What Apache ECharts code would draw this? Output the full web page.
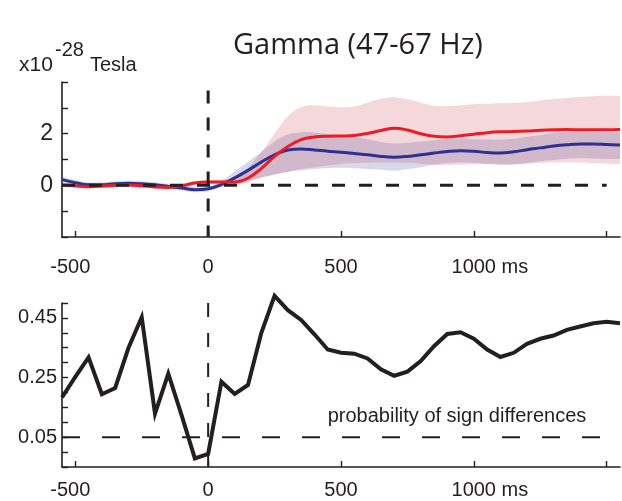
<!DOCTYPE html>
<html>
<head>
<meta charset="utf-8">
<script src="https://cdn.jsdelivr.net/npm/echarts@6/dist/echarts.min.js"></script>
<style>
html, body { margin: 0; padding: 0; background: #fff; }
#chart { width: 622px; height: 501px; }
</style>
</head>
<body>
<div id="chart"></div>
<script>
// Time after stimulus onset (ms), shared by both panels
const times = [-550, -500, -450, -400, -350, -300, -250, -200, -150, -100, -50, 0,
  50, 100, 150, 200, 250, 300, 350, 400, 450, 500, 550, 600, 650, 700, 750, 800,
  850, 900, 950, 1000, 1050, 1100, 1150, 1200, 1250, 1300, 1350, 1400, 1450, 1500, 1550];

// Gamma power, condition 1 (blue): mean and confidence band (x10^-28 Tesla)
const blueMean = [0.22, 0.10, 0.02, 0.02, 0.06, 0.08, 0.06, 0.02, -0.04, -0.10, -0.17, -0.13,
  0.03, 0.29, 0.58, 0.90, 1.18, 1.37, 1.41, 1.37, 1.32, 1.28, 1.23, 1.18, 1.12, 1.09, 1.12, 1.18,
  1.25, 1.31, 1.34, 1.32, 1.27, 1.25, 1.30, 1.38, 1.45, 1.52, 1.57, 1.60, 1.60, 1.58, 1.56];
const blueUpper = [0.34, 0.21, 0.12, 0.12, 0.16, 0.18, 0.16, 0.12, 0.06, 0.00, -0.07, -0.03,
  0.15, 0.55, 0.90, 1.30, 1.70, 1.97, 2.05, 2.05, 1.98, 1.92, 1.85, 1.78, 1.68, 1.62, 1.65, 1.70,
  1.75, 1.80, 1.80, 1.78, 1.77, 1.77, 1.80, 1.88, 1.95, 2.03, 2.07, 2.08, 2.07, 2.06, 2.05];
const blueLower = [0.12, 0.00, -0.08, -0.08, -0.04, -0.02, -0.04, -0.08, -0.14, -0.20, -0.27, -0.23,
  -0.07, 0.05, 0.16, 0.30, 0.42, 0.52, 0.58, 0.63, 0.67, 0.68, 0.66, 0.63, 0.60, 0.57, 0.62, 0.70,
  0.80, 0.86, 0.88, 0.87, 0.83, 0.79, 0.80, 0.86, 0.93, 0.98, 1.03, 1.05, 1.04, 1.02, 1.02];

// Gamma power, condition 2 (red): mean and confidence band
const redMean = [0.01, -0.02, -0.05, -0.03, 0.00, 0.01, -0.02, -0.06, -0.08, -0.02, 0.09, 0.13,
  0.13, 0.13, 0.28, 0.65, 1.12, 1.50, 1.77, 1.87, 1.90, 1.91, 1.93, 2.01, 2.12, 2.21, 2.14, 2.00,
  1.90, 1.87, 1.92, 1.98, 2.04, 2.07, 2.08, 2.10, 2.13, 2.15, 2.16, 2.15, 2.15, 2.15, 2.16];
const redUpper = [0.09, 0.06, 0.03, 0.05, 0.08, 0.09, 0.06, 0.02, 0.00, 0.06, 0.17, 0.21,
  0.23, 0.28, 0.68, 1.28, 2.00, 2.68, 3.03, 3.10, 3.05, 3.02, 3.05, 3.20, 3.35, 3.41, 3.33, 3.20,
  3.08, 3.07, 3.10, 3.14, 3.16, 3.18, 3.19, 3.22, 3.28, 3.34, 3.38, 3.42, 3.45, 3.47, 3.47];
const redLower = [-0.07, -0.10, -0.13, -0.11, -0.08, -0.07, -0.10, -0.14, -0.16, -0.10, 0.01, 0.05,
  0.03, 0.02, 0.12, 0.30, 0.42, 0.53, 0.63, 0.70, 0.77, 0.83, 0.86, 0.87, 0.88, 0.88, 0.87, 0.84,
  0.80, 0.79, 0.80, 0.82, 0.83, 0.83, 0.83, 0.84, 0.86, 0.88, 0.89, 0.88, 0.86, 0.84, 0.83];

// Probability of sign differences between the two conditions
const signProb = [0.183, 0.252, 0.318, 0.194, 0.215, 0.349, 0.452, 0.129, 0.263, 0.124, -0.021, -0.006,
  0.236, 0.195, 0.225, 0.399, 0.524, 0.476, 0.443, 0.395, 0.344, 0.333, 0.330, 0.314, 0.278, 0.256, 0.270, 0.305,
  0.355, 0.396, 0.402, 0.380, 0.344, 0.319, 0.333, 0.363, 0.380, 0.391, 0.410, 0.421, 0.432, 0.437, 0.432];

// Axis ticks and labels
const xTicks = [-500, 0, 500, 1000, 1500];
const xLabels = [-500, 0, 500, 1000];
const topYLabels = [0, 2];
const bottomYTicks = [-0.05, 0, 0.05, 0.1, 0.15, 0.2, 0.25, 0.3, 0.35, 0.4, 0.45, 0.5];
const bottomYLabels = [0.05, 0.25, 0.45];
const alphaLevel = 0.05;

const INK = '#231f20';
const SANS = '"Liberation Sans", Arial, Helvetica, sans-serif';

const pairs = (ys) => times.map((t, i) => [t, ys[i]]);

function xAxisFor(grid, margin) {
  return {
    type: 'value', gridIndex: grid, min: -550, max: 1550,
    axisLine: { show: true, onZero: false, lineStyle: { color: INK, width: 1.6 } },
    axisTick: { show: true, inside: true, length: 6, customValues: xTicks, lineStyle: { color: INK, width: 1.4 } },
    axisLabel: {
      customValues: xLabels, margin: margin,
      // "ms" trails the 1000 label while the number itself stays centred on its tick
      formatter: (v) => v === 1000 ? '{pad| }{t|1000 ms}' : (v === -500 ? '{t|-500}{pad2| }' : '{t|' + v + '}'),
      rich: {
        t: { fontFamily: SANS, fontSize: 20, color: INK },
        pad: { width: 32, fontSize: 20 },
        pad2: { width: 10, fontSize: 20 }
      }
    },
    splitLine: { show: false }
  };
}

// Smooth curve through screen points (cardinal-spline style Bezier segments)
function curveSegment(pts, move) {
  let d = (move ? 'M' : 'L') + pts[0][0] + ' ' + pts[0][1];
  const k = 0.18;
  for (let i = 0; i < pts.length - 1; i++) {
    const p0 = pts[Math.max(0, i - 1)], p1 = pts[i], p2 = pts[i + 1], p3 = pts[Math.min(pts.length - 1, i + 2)];
    const c1x = p1[0] + (p2[0] - p0[0]) * k, c1y = p1[1] + (p2[1] - p0[1]) * k;
    const c2x = p2[0] - (p3[0] - p1[0]) * k, c2y = p2[1] - (p3[1] - p1[1]) * k;
    d += 'C' + c1x + ' ' + c1y + ' ' + c2x + ' ' + c2y + ' ' + p2[0] + ' ' + p2[1];
  }
  return d;
}

// Shaded confidence band: closed shape along the upper edge and back along the lower edge
function bandSeries(upper, lower, fill) {
  return {
    type: 'custom', xAxisIndex: 0, yAxisIndex: 0, silent: true, clip: true,
    data: times.map((t, i) => [t, lower[i], upper[i]]),
    encode: { x: 0, y: [1, 2] },
    renderItem: (params, api) => {
      if (params.dataIndex !== 0) return;
      const top = times.map((t, i) => api.coord([t, upper[i]]));
      const bottom = times.map((t, i) => api.coord([t, lower[i]])).reverse();
      return {
        type: 'path',
        shape: { pathData: curveSegment(top, true) + curveSegment(bottom, false) + 'Z' },
        style: { fill: fill, stroke: 'none' }
      };
    }
  };
}

const option = {
  animation: false,
  backgroundColor: '#fff',
  title: {
    text: 'Gamma (47-67 Hz)', left: 228, top: 26,
    textStyle: { fontFamily: '"Open Sans", sans-serif', fontSize: 29, fontWeight: 'normal', color: INK }
  },
  graphic: [
    { type: 'text', x: 19, y: 65, style: { text: 'x10', font: '21px ' + SANS, fill: INK, textVerticalAlign: 'middle', verticalAlign: 'middle' } },
    { type: 'text', x: 55, y: 50, style: { text: '-28', font: '20px ' + SANS, fill: INK, textVerticalAlign: 'middle', verticalAlign: 'middle' } },
    { type: 'text', x: 90, y: 65, style: { text: 'Tesla', font: '20px ' + SANS, fill: INK, textVerticalAlign: 'middle', verticalAlign: 'middle' } },
    { type: 'text', x: 457, y: 416, style: { text: 'probability of sign differences', font: '20px ' + SANS, fill: INK,
      textAlign: 'center', align: 'center', textVerticalAlign: 'middle', verticalAlign: 'middle' } }
  ],
  grid: [
    { left: 62, top: 82, width: 558, height: 155 },
    { left: 62, top: 303, width: 558, height: 164 }
  ],
  xAxis: [xAxisFor(0, 20), xAxisFor(1, 13)],
  yAxis: [
    {
      type: 'value', gridIndex: 0, min: -2, max: 4, interval: 1,
      axisLine: { show: true, onZero: false, lineStyle: { color: INK, width: 1.6 } },
      axisTick: { show: true, inside: true, length: 6, lineStyle: { color: INK, width: 1.4 } },
      axisLabel: { customValues: topYLabels, margin: 9, fontFamily: SANS, fontSize: 23, color: INK },
      splitLine: { show: false }
    },
    {
      type: 'value', gridIndex: 1, min: -0.05, max: 0.5, interval: 0.05,
      axisLine: { show: true, onZero: false, lineStyle: { color: INK, width: 1.6 } },
      axisTick: { show: true, inside: true, length: 6, customValues: bottomYTicks, lineStyle: { color: INK, width: 1.4 } },
      axisLabel: { customValues: bottomYLabels, margin: 5, fontFamily: SANS, fontSize: 20, color: INK,
        formatter: (v) => v.toFixed(2) },
      splitLine: { show: false }
    }
  ],
  series: [
    bandSeries(blueUpper, blueLower, 'rgba(60,80,170,0.22)'),
    bandSeries(redUpper, redLower, 'rgba(200,40,55,0.18)'),
    // mean curves
    { type: 'line', xAxisIndex: 0, yAxisIndex: 0, data: pairs(blueMean), smooth: 0.4, symbol: 'none',
      lineStyle: { color: '#2e3192', width: 3 } },
    { type: 'line', xAxisIndex: 0, yAxisIndex: 0, data: pairs(redMean), smooth: 0.4, symbol: 'none',
      lineStyle: { color: '#ed1c24', width: 3 } },
    // baseline and onset markers
    { type: 'line', xAxisIndex: 0, yAxisIndex: 0, data: [[-550, 0], [1500, 0]], symbol: 'none', silent: true,
      lineStyle: { color: INK, width: 3, type: [13, 14] } },
    { type: 'line', xAxisIndex: 0, yAxisIndex: 0, data: [[0, 3.67], [0, -2]], symbol: 'none', silent: true,
      lineStyle: { color: INK, width: 3, type: [13, 14] } },
    // bottom panel: significance level, onset marker and probability trace
    { type: 'line', xAxisIndex: 1, yAxisIndex: 1, data: [[-550, alphaLevel], [1480, alphaLevel]], symbol: 'none', silent: true,
      lineStyle: { color: INK, width: 2, type: [18, 22] } },
    { type: 'line', xAxisIndex: 1, yAxisIndex: 1, data: [[0, 0.5], [0, -0.05]], symbol: 'none', silent: true,
      lineStyle: { color: INK, width: 2, type: [14, 16] } },
    { type: 'line', xAxisIndex: 1, yAxisIndex: 1, data: pairs(signProb), symbol: 'none', clip: false,
      lineStyle: { color: INK, width: 4, join: 'miter' } }
  ]
};

const chart = echarts.init(document.getElementById('chart'), null, { renderer: 'canvas' });
chart.setOption(option);
</script>
</body>
</html>
